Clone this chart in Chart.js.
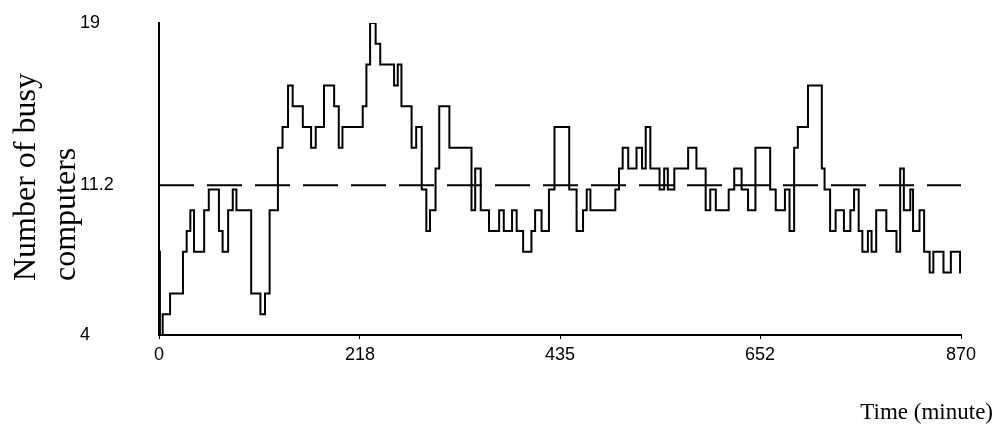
<!DOCTYPE html>
<html>
<head>
<meta charset="utf-8">
<script src="https://cdn.jsdelivr.net/npm/chart.js@4"></script>
<style>
  html, body { margin: 0; padding: 0; background: #fff; }
  #wrap { width: 995px; height: 434px; }
</style>
</head>
<body>
<div id="wrap"><canvas id="busyChart"></canvas></div>
<script>
// times (minutes) at which the count changes, and the new count
const changeTimes = [0, 1, 4, 12, 26, 30, 34, 38, 49, 54, 65, 69, 75, 80, 84, 100, 110, 115, 120, 129,
  134, 140, 145, 156, 165, 170, 179, 190, 195, 199, 221, 225, 229, 235, 240, 255, 259, 263, 274, 279,
  285, 290, 294, 300, 304, 315, 339, 343, 349, 358, 369, 374, 383, 388, 395, 404, 408, 415, 423, 429,
  445, 453, 460, 464, 468, 495, 499, 503, 509, 518, 524, 528, 533, 543, 548, 552, 559, 574, 583, 593,
  598, 604, 618, 624, 632, 639, 647, 663, 669, 679, 684, 689, 693, 704, 719, 722, 728, 734, 743, 750,
  754, 759, 763, 769, 773, 778, 789, 800, 804, 808, 815, 818, 825, 830, 836, 840, 851, 859, 869, 870];
const busyCounts = [8, 4, 5, 6, 8, 9, 10, 8, 10, 11, 9, 8, 10, 11, 10, 6, 5, 6, 10, 13,
  14, 16, 15, 14, 13, 14, 16, 15, 13, 14, 15, 17, 19, 18, 17, 16, 17, 15, 13, 14,
  11, 9, 10, 12, 15, 13, 10, 12, 10, 9, 10, 9, 10, 9, 8, 9, 10, 9, 11, 14,
  11, 9, 10, 11, 10, 11, 12, 13, 12, 13, 12, 14, 12, 11, 12, 11, 12, 13, 12, 10,
  11, 10, 11, 12, 11, 10, 13, 11, 10, 11, 9, 13, 14, 16, 12, 11, 9, 10, 9, 10,
  11, 9, 8, 9, 8, 10, 9, 8, 12, 10, 11, 9, 10, 8, 7, 8, 7, 8, 7, 7];
const meanBusy = 11.2;
const xTickValues = [0, 218, 435, 652, 870];
const yTickValues = [4, 11.2, 19];

const stepPoints = changeTimes.map((t, i) => ({ x: t, y: busyCounts[i] }));
const meanPoints = [{ x: xTickValues[0], y: meanBusy }, { x: xTickValues[xTickValues.length - 1], y: meanBusy }];

const tickFont = { family: '"Liberation Sans", Arial, sans-serif', size: 18 };
const serif = '"Liberation Serif", "Times New Roman", serif';

// axis titles drawn by hand so they sit where the original has them
const axisTitles = {
  id: "axisTitles",
  afterDraw(chart) {
    const ctx = chart.ctx;
    ctx.save();
    ctx.fillStyle = "#000";
    ctx.textAlign = "left";
    ctx.textBaseline = "alphabetic";
    ctx.font = "32px " + serif;
    [["Number of busy", 35], ["computers", 75]].forEach(([txt, bx]) => {
      ctx.save();
      ctx.translate(bx, 281);
      ctx.rotate(-Math.PI / 2);
      ctx.fillText(txt, 0, 0);
      ctx.restore();
    });
    ctx.font = "23px " + serif;
    ctx.textAlign = "right";
    ctx.fillText("Time (minute)", 993, 419);
    ctx.restore();
  },
};

const ctx = document.getElementById("busyChart").getContext("2d");
new Chart(ctx, {
  type: "line",
  data: {
    datasets: [
      {
        label: "Busy computers",
        data: stepPoints,
        stepped: true,
        borderColor: "#000",
        borderWidth: 2,
        pointRadius: 0,
        fill: false,
      },
      {
        label: "Mean",
        data: meanPoints,
        borderColor: "#000",
        borderWidth: 2,
        borderDash: [35, 13],
        pointRadius: 0,
        fill: false,
      },
    ],
  },
  options: {
    responsive: true,
    maintainAspectRatio: false,
    animation: false,
    layout: { padding: { left: 80, right: 34, top: 23, bottom: 0 } },
    plugins: { legend: { display: false }, tooltip: { enabled: false } },
    scales: {
      x: {
        type: "linear",
        min: 0,
        max: 870,
        afterBuildTicks: (s) => { s.ticks = xTickValues.map((v) => ({ value: v })); },
        afterFit: (s) => { s.height = 99; },
        ticks: { color: "#000", font: tickFont, padding: 5, maxRotation: 0 },
        grid: { display: true, drawOnChartArea: false, tickLength: 4, color: "#000", lineWidth: 1 },
        border: { display: true, color: "#000", width: 2 },
      },
      y: {
        min: 4,
        max: 19,
        afterBuildTicks: (s) => { s.ticks = yTickValues.map((v) => ({ value: v })); },
        afterFit: (s) => { s.width = 79; },
        ticks: { color: "#000", font: tickFont, crossAlign: "far", callback: (v) => String(v) },
        grid: { display: false },
        border: { display: true, color: "#000", width: 2 },
      },
    },
  },
  plugins: [axisTitles],
});
</script>
</body>
</html>
